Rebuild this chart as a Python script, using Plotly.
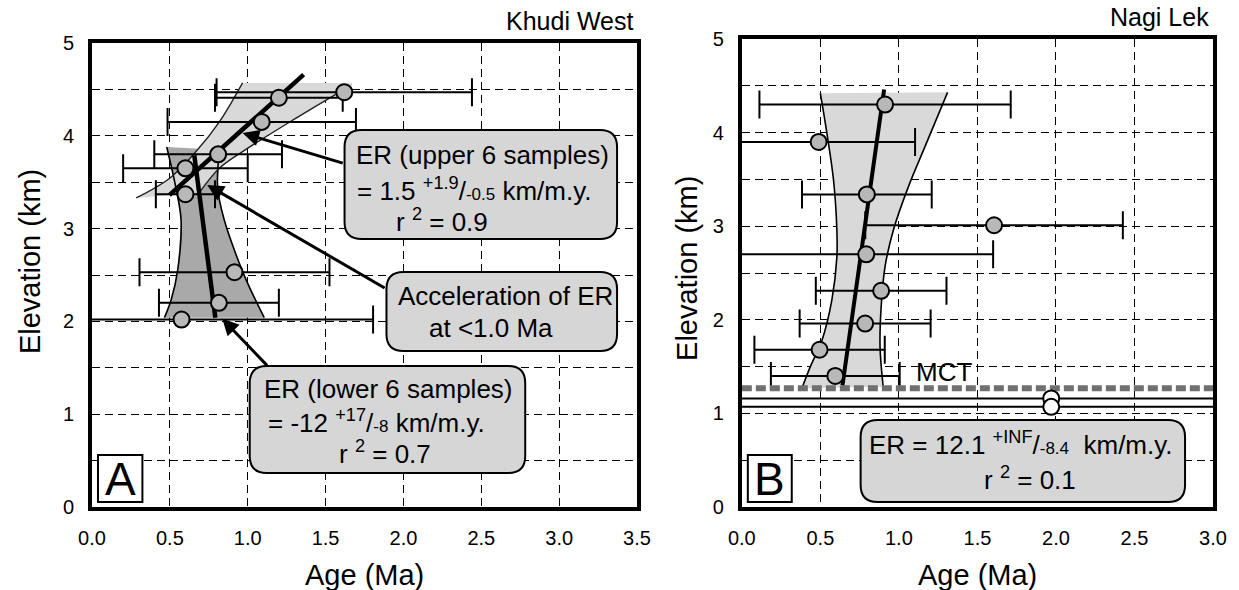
import plotly.graph_objects as go

# ---------------- Panel A : Khudi West ----------------
a_age = [1.62, 1.20, 1.09, 0.81, 0.60, 0.60, 0.915, 0.815, 0.575]
a_elev = [4.47, 4.41, 4.15, 3.80, 3.65, 3.37, 2.53, 2.20, 2.02]
a_err = [0.82, 0.41, 0.605, 0.41, 0.40, 0.19, 0.61, 0.385, 1.23]

a_up_fit_age = [0.497, 1.359]
a_up_fit_elev = [3.36, 4.66]
a_lo_fit_age = [0.657, 0.792]
a_lo_fit_elev = [3.79, 2.04]

a_up_left_age = [0.284, 0.497, 0.668, 0.818, 0.967]
a_up_left_elev = [3.33, 3.54, 3.83, 4.15, 4.57]
a_up_right_age = [0.690, 0.818, 0.967, 1.310, 1.609]
a_up_right_elev = [3.39, 3.65, 3.83, 4.19, 4.49]
a_up_fill_top_age = [1.67, 1.67]
a_up_fill_top_elev = [4.57, 4.50]

a_lo_left_age = [0.480, 0.540, 0.572, 0.550, 0.508, 0.465]
a_lo_left_elev = [3.88, 3.43, 3.09, 2.55, 2.23, 2.04]
a_lo_right_age = [0.818, 0.807, 0.850, 0.914, 0.989, 1.106]
a_lo_right_elev = [3.85, 3.43, 3.09, 2.77, 2.45, 2.04]

# ---------------- Panel B : Nagi Lek ----------------
b_age = [0.912, 0.489, 0.796, 1.606, 0.792, 0.887, 0.785, 0.495, 0.595]
b_elev = [4.30, 3.90, 3.34, 3.01, 2.70, 2.31, 1.96, 1.68, 1.40]
b_err = [0.80, 0.614, 0.413, 0.82, 0.808, 0.416, 0.417, 0.415, 0.41]
b_white_age = [1.97, 1.97]
b_white_elev = [1.16, 1.07]
b_white_err = [3.0, 3.0]
b_fit_age = [0.641, 0.906]
b_fit_elev = [1.30, 4.46]
b_left_age = [0.383, 0.436, 0.51, 0.573, 0.605, 0.605, 0.584, 0.542, 0.50]
b_left_elev = [1.27, 1.50, 1.78, 2.21, 2.67, 2.96, 3.49, 3.99, 4.42]
b_right_age = [0.90, 0.88, 0.887, 0.912, 0.965, 1.06, 1.166, 1.31]
b_right_elev = [1.285, 1.71, 2.14, 2.57, 2.96, 3.42, 3.85, 4.43]
b_mct = 1.27

x_ticks_a = [0, 0.5, 1.0, 1.5, 2.0, 2.5, 3.0, 3.5]
x_ticks_b = [0, 0.5, 1.0, 1.5, 2.0, 2.5, 3.0]
y_ticks = [0, 1, 2, 3, 4, 5]

# ---------------- layout geometry (pixels) ----------------
W, H = 1239, 590
ML, MR, MT, MB = 92, 24, 39, 83
PW = W - ML - MR
PH = H - MT - MB
FONT = "Liberation Sans, Arial, Helvetica, sans-serif"
NARROW = "Liberation Sans Narrow, Arial Narrow, Liberation Sans, sans-serif"


def PX(px):
    return (px - ML) / PW


def PY(py):
    return (H - MB - py) / PH


def rbox(x0, y0, x1, y1, r=17):
    def p(x, y):
        return f"{PX(x):.5f},{PY(y):.5f}"
    path = (f"M {p(x0 + r, y0)} L {p(x1 - r, y0)} Q {p(x1, y0)} {p(x1, y0 + r)} "
            f"L {p(x1, y1 - r)} Q {p(x1, y1)} {p(x1 - r, y1)} "
            f"L {p(x0 + r, y1)} Q {p(x0, y1)} {p(x0, y1 - r)} "
            f"L {p(x0, y0 + r)} Q {p(x0, y0)} {p(x0 + r, y0)} Z")
    return dict(type="path", xref="paper", yref="paper", path=path,
                fillcolor="#d6d6d6", line=dict(color="black", width=2), layer="above")


def sbox(x0, y0, x1, y1):
    return dict(type="rect", xref="paper", yref="paper", x0=PX(x0), x1=PX(x1),
                y0=PY(y1), y1=PY(y0), fillcolor="white",
                line=dict(color="black", width=2), layer="above")


def txt(px, py, s, size=26, xanchor="center", family=FONT):
    return dict(xref="paper", yref="paper", x=PX(px), y=PY(py), text=s,
                showarrow=False, xanchor=xanchor, yanchor="middle",
                font=dict(family=family, size=size, color="black"))


fig = go.Figure()

MARK = "#b8b8b8"
LIGHT = "#d9d9d9"
DARK = "#a9a9a9"

# ---- panel A traces ----
fig.add_trace(go.Scatter(x=a_lo_left_age + a_lo_right_age[::-1],
                         y=a_lo_left_elev + a_lo_right_elev[::-1],
                         fill="toself", fillcolor=DARK, line=dict(width=0),
                         mode="lines", hoverinfo="skip", xaxis="x", yaxis="y"))
fig.add_trace(go.Scatter(x=a_up_left_age + a_up_fill_top_age + a_up_right_age[::-1],
                         y=a_up_left_elev + a_up_fill_top_elev + a_up_right_elev[::-1],
                         fill="toself", fillcolor=LIGHT, line=dict(width=0),
                         mode="lines", hoverinfo="skip", xaxis="x", yaxis="y"))
for xs, ys in [(a_lo_left_age, a_lo_left_elev), (a_lo_right_age, a_lo_right_elev)]:
    fig.add_trace(go.Scatter(x=xs, y=ys, mode="lines", line=dict(color="black", width=1.6, shape="spline"),
                             hoverinfo="skip", xaxis="x", yaxis="y"))
for xs, ys in [(a_up_left_age, a_up_left_elev), (a_up_right_age, a_up_right_elev)]:
    fig.add_trace(go.Scatter(x=xs, y=ys, mode="lines", line=dict(color="#222222", width=1.4, shape="spline"),
                             hoverinfo="skip", xaxis="x", yaxis="y"))
fig.add_trace(go.Scatter(x=a_age, y=a_elev, mode="markers", marker=dict(size=1, opacity=0),
                         error_x=dict(type="data", array=a_err, visible=True, color="black",
                                      thickness=2, width=14),
                         hoverinfo="skip", xaxis="x", yaxis="y"))
fig.add_trace(go.Scatter(x=a_up_fit_age, y=a_up_fit_elev, mode="lines",
                         line=dict(color="black", width=4.5), xaxis="x", yaxis="y"))
fig.add_trace(go.Scatter(x=a_lo_fit_age, y=a_lo_fit_elev, mode="lines",
                         line=dict(color="black", width=4.5), xaxis="x", yaxis="y"))
fig.add_trace(go.Scatter(x=a_age, y=a_elev, mode="markers",
                         marker=dict(size=16, color=MARK, line=dict(color="black", width=2)),
                         xaxis="x", yaxis="y"))

# ---- panel B traces ----
fig.add_trace(go.Scatter(x=b_left_age + b_right_age[::-1],
                         y=b_left_elev + b_right_elev[::-1],
                         fill="toself", fillcolor=LIGHT, line=dict(width=0),
                         mode="lines", hoverinfo="skip", xaxis="x2", yaxis="y2"))
for xs, ys in [(b_left_age, b_left_elev), (b_right_age, b_right_elev)]:
    fig.add_trace(go.Scatter(x=xs, y=ys, mode="lines", line=dict(color="black", width=1.6, shape="spline"),
                             hoverinfo="skip", xaxis="x2", yaxis="y2"))
fig.add_trace(go.Scatter(x=b_age + b_white_age, y=b_elev + b_white_elev, mode="markers",
                         marker=dict(size=1, opacity=0),
                         error_x=dict(type="data", array=b_err + b_white_err, visible=True,
                                      color="black", thickness=2, width=14),
                         hoverinfo="skip", xaxis="x2", yaxis="y2"))
fig.add_trace(go.Scatter(x=[0, 3], y=[b_mct, b_mct], mode="lines",
                         line=dict(color="#707070", width=6, dash="10px,4px"),
                         hoverinfo="skip", xaxis="x2", yaxis="y2"))
fig.add_trace(go.Scatter(x=b_fit_age, y=b_fit_elev, mode="lines",
                         line=dict(color="black", width=4), xaxis="x2", yaxis="y2"))
fig.add_trace(go.Scatter(x=b_age, y=b_elev, mode="markers",
                         marker=dict(size=16, color=MARK, line=dict(color="black", width=2)),
                         xaxis="x2", yaxis="y2"))
fig.add_trace(go.Scatter(x=b_white_age, y=b_white_elev, mode="markers",
                         marker=dict(size=16, color="white", line=dict(color="black", width=2)),
                         xaxis="x2", yaxis="y2"))

grid = dict(showgrid=True, gridcolor="black", gridwidth=1, griddash="8px,5px")
axis_common = dict(showline=True, linecolor="black", linewidth=4, mirror=True,
                   ticks="outside", ticklen=10, tickcolor="rgba(0,0,0,0)",
                   tickfont=dict(family=FONT, size=20, color="black"), zeroline=False, **grid)
minor_grid = dict(dtick=0.5, showgrid=True, gridcolor="black", gridwidth=1, griddash="8px,5px")

fig.update_layout(
    width=W, height=H, margin=dict(l=ML, r=MR, t=MT, b=MB),
    paper_bgcolor="white", plot_bgcolor="white", showlegend=False,
    xaxis=dict(domain=[0, PX(638)], range=[0, 3.5], tickvals=x_ticks_a,
               ticktext=[f"{v:.1f}" for v in x_ticks_a], anchor="y", **axis_common),
    yaxis=dict(domain=[0, PY(43)], range=[0, 5], tickvals=y_ticks, anchor="x",
               minor=minor_grid, **axis_common),
    xaxis2=dict(domain=[PX(743), 1], range=[0, 3.0], tickvals=x_ticks_b,
                ticktext=[f"{v:.1f}" for v in x_ticks_b], anchor="y2", **axis_common),
    yaxis2=dict(domain=[0, 1], range=[0, 5], tickvals=y_ticks, anchor="x2",
                minor=minor_grid, **axis_common),
)

shapes = [
    rbox(345, 130, 618, 239),
    rbox(387, 272, 618, 351),
    rbox(250, 366, 526, 473),
    rbox(862, 420, 1187, 502),
    sbox(98, 455, 142.5, 502),
    sbox(749, 455, 793, 502),
]
fig.update_layout(shapes=shapes)

small = "<span style='font-size:17px'>"
ann = [
    txt(636, 21, "Khudi West", 25, "right", NARROW),
    txt(1213, 17, "Nagi Lek", 25, "right", NARROW),
    txt(365, 575, "Age (Ma)", 29),
    txt(979, 575, "Age (Ma)", 29),
    dict(xref="paper", yref="paper", x=PX(30), y=PY(262), text="Elevation (km)", textangle=-90,
         showarrow=False, xanchor="center", yanchor="middle",
         font=dict(family=FONT, size=29, color="black")),
    dict(xref="paper", yref="paper", x=PX(688), y=PY(268), text="Elevation (km)", textangle=-90,
         showarrow=False, xanchor="center", yanchor="middle",
         font=dict(family=FONT, size=29, color="black")),
    txt(483, 155, "ER (upper 6 samples)"),
    txt(475, 189, "= 1.5 <sup>+1.9</sup>/" + small + "-0.5</span> km/m.y."),
    txt(443, 221, "r <sup>2</sup> = 0.9"),
    txt(506, 296, "Acceleration of ER"),
    txt(492, 328, "at <1.0 Ma"),
    txt(389, 389, "ER (lower 6 samples)"),
    txt(266, 421, "= -12 <sup>+17</sup>/" + small + "-8</span> km/m.y.", 26, "left"),
    txt(386, 452, "r <sup>2</sup> = 0.7"),
    txt(1023, 443, "ER = 12.1 <sup>+INF</sup>/" + small + "-8.4</span>  km/m.y."),
    txt(1032, 478, "r <sup>2</sup> = 0.1"),
    txt(120.5, 479, "A", 46),
    txt(771, 479, "B", 46),
    dict(xref="x2", yref="y2", x=1.29, y=1.44, text="MCT", showarrow=False,
         xanchor="center", yanchor="middle", font=dict(family=FONT, size=26, color="black")),
]
arrow_style = dict(text="", showarrow=True, arrowhead=2, arrowsize=1.1, arrowwidth=3,
                   arrowcolor="black", axref="x", ayref="y", xref="x", yref="y")
ann += [
    dict(x=0.967, y=4.03, ax=1.62, ay=3.70, **arrow_style),
    dict(x=0.74, y=3.47, ax=1.889, ay=2.35, **arrow_style),
    dict(x=0.836, y=2.03, ax=1.133, ay=1.51, **arrow_style),
]
fig.update_layout(annotations=ann)

fig.write_html("out.html", config={"displayModeBar": False},
               post_script="document.body.style.margin='0px';document.body.style.overflow='hidden';")
